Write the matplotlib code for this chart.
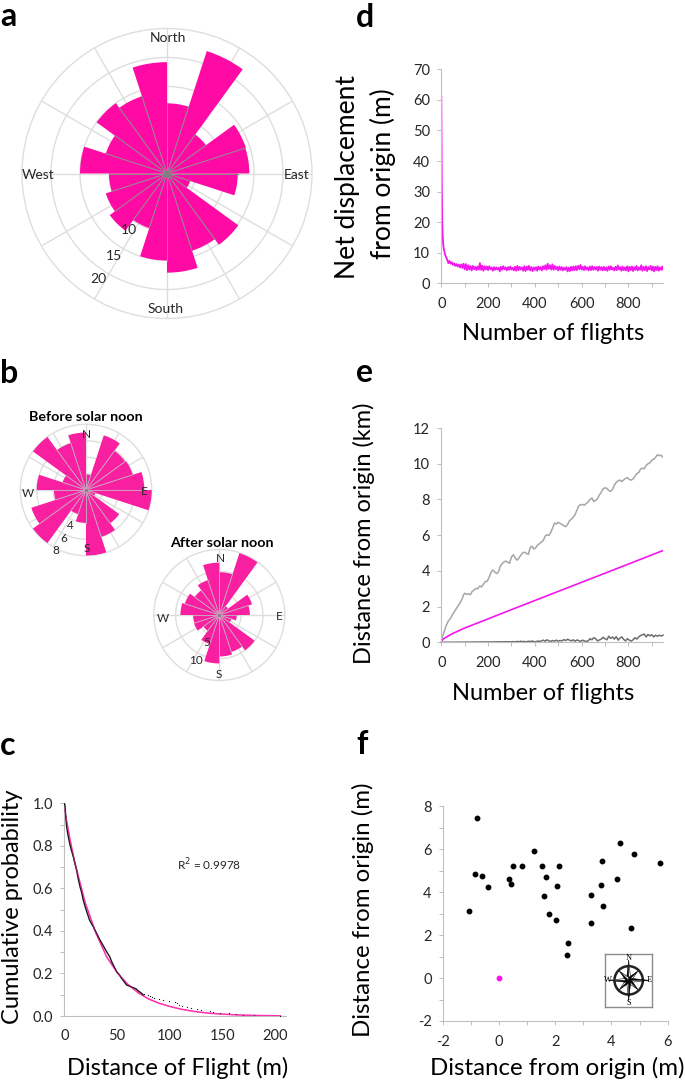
import numpy as np
import matplotlib
matplotlib.use('Agg')
import matplotlib.pyplot as plt
from matplotlib.patches import Circle, Polygon

plt.rcParams['font.family'] = ['Lato', 'DejaVu Sans']
plt.rcParams['axes.unicode_minus'] = False

W, H = 685, 1081

# a: flights per 18 degree sector, clockwise from north
rose_a = [12.1, 22.2, 8.3, 14.3, 14.2, 12.2, 4.2, 15.2, 14.0, 17.1,
          15.0, 9.9, 12.2, 11.1, 10.0, 15.0, 11.1, 15.0, 14.0, 19.2]
# b: before and after solar noon
rose_before = [1.9, 7.0, 5.9, 6.0, 7.1, 8.1, 1.2, 5.0, 6.0, 8.0,
               4.0, 3.1, 8.0, 7.0, 3.9, 6.0, 3.0, 8.0, 6.0, 7.0]
rose_after = [9.8, 14.9, 2.5, 7.9, 7.0, 4.0, 2.9, 10.0, 8.9, 9.5,
              11.1, 7.0, 4.5, 6.1, 6.0, 8.9, 8.3, 7.0, 8.4, 12.0]

# c: cumulative probability
c_x = [0, 0.6, 1.2, 2.2, 3.5, 5.4, 7, 8.5, 10, 11.7, 13, 14.9, 16.5, 18, 20, 21.8, 24,
       27.5, 30, 33.9, 37, 40.2, 43, 45, 47, 49.7, 52, 54.4, 57, 59, 62, 65.5, 68, 70, 73, 75]
c_y = [1.0, 0.992, 0.95, 0.89, 0.85, 0.804, 0.775, 0.75, 0.72, 0.686, 0.65, 0.608, 0.58,
       0.545, 0.51, 0.483, 0.45, 0.42, 0.395, 0.357, 0.33, 0.302, 0.28, 0.255, 0.235,
       0.208, 0.195, 0.177, 0.16, 0.146, 0.14, 0.133, 0.128, 0.119, 0.108, 0.099]
c_dots_x = [76, 79, 81, 83, 85, 90, 94, 99, 105, 107, 109, 112, 116, 120, 126, 130,
            138, 141, 148, 156, 163, 170, 180, 205]
c_dots_y = [0.105, 0.1, 0.095, 0.09, 0.085, 0.08, 0.075, 0.072, 0.068, 0.06, 0.05, 0.045,
            0.04, 0.037, 0.032, 0.027, 0.022, 0.017, 0.015, 0.012, 0.01, 0.007, 0.004, 0.001]
fit_x = [0, 5, 10, 20, 30, 40, 50, 60, 70, 80, 90, 100, 110, 120, 130, 140, 150, 160, 170, 180, 190, 205]
fit_y = [0.98, 0.84, 0.72, 0.53, 0.39, 0.28, 0.205, 0.15, 0.11, 0.08, 0.06, 0.045, 0.033,
         0.024, 0.017, 0.012, 0.009, 0.006, 0.004, 0.003, 0.002, 0.001]

# d: net displacement (first flights, then every 5th)
d_x0 = [0, 1, 2, 3, 4, 6, 8, 10, 13, 16, 20, 25, 30, 35, 40, 45, 50, 55, 60, 65, 70, 75, 80, 85, 90, 95]
d_y0 = [61, 45, 33, 25, 20, 15.5, 13, 11.5, 10.5, 9.4, 8.6, 7.8, 6.6, 7.3, 6.4, 6.9, 6.0, 6.5, 5.7,
        6.3, 5.5, 6.1, 5.2, 6.2, 5.0, 6.4]
d_y1 = [4.6, 6.3, 4.3, 5.9, 4.5, 5.6, 4.2, 5.7, 4.6, 5.4, 4.3, 5.5, 4.5, 6.6, 4.4, 5.8, 4.1, 5.6,
        4.5, 5.5, 4.3, 5.6, 4.6, 5.2, 4.1, 5.3, 4.4, 5.2, 4.5, 5.1, 3.9, 5.4, 4.4, 5.6, 4.6, 5.2,
        4.2, 5.3, 4.4, 5.5, 4.5, 5.1, 4.2, 5.4, 4.1, 5.7, 4.3, 5.4, 4.5, 5.2, 4.1, 5.6, 4.0, 5.5,
        4.4, 5.7, 4.2, 5.3, 4.0, 5.2, 4.4, 5.3, 4.1, 5.5, 4.5, 5.3, 4.2, 5.6, 4.6, 5.9, 4.4, 6.4,
        4.7, 5.9, 4.5, 6.2, 4.4, 5.7, 4.6, 5.4, 4.2, 5.5, 4.4, 5.3, 4.2, 5.1, 4.4, 5.3, 3.9, 5.1,
        4.0, 5.4, 4.2, 5.5, 4.3, 5.6, 4.3, 5.7, 4.6, 6.0, 4.5, 5.4, 4.3, 5.6, 4.5, 5.2, 4.2, 5.5,
        4.3, 5.6, 4.4, 5.3, 4.5, 5.4, 4.1, 5.5, 4.4, 5.3, 4.2, 5.4, 4.3, 5.2, 4.1, 5.5, 4.4, 5.6,
        4.5, 5.1, 4.2, 5.4, 4.3, 5.8, 4.5, 5.3, 4.1, 5.5, 4.3, 5.2, 4.2, 5.6, 3.9, 5.4, 4.3, 5.5,
        4.0, 5.3, 4.4, 5.7, 4.2, 5.2, 4.4, 5.9, 4.1, 5.4, 4.3, 5.6, 4.0, 5.3, 4.5, 5.7, 4.2, 5.5,
        3.9, 5.4, 4.3, 5.6, 4.1, 5.2, 4.4, 5.5, 4.2]

# e: distance from origin
e_gray_x0 = [0, 3, 10, 20, 30, 40, 50, 60, 70, 80, 90, 95]
e_gray_y0 = [0, 0.25, 0.5, 0.9, 1.2, 1.35, 1.6, 1.8, 2.0, 2.2, 2.45, 2.65]
e_gray_y1 = [2.75, 2.68, 2.72, 2.66, 2.85, 2.92, 3.02, 3.0, 3.15, 3.1, 3.25, 3.4, 3.42, 3.62, 3.9,
             4.05, 3.95, 3.85, 3.92, 4.25, 4.4, 4.5, 4.55, 4.48, 4.42, 4.78, 4.9, 4.72, 4.6, 4.72,
             4.88, 5.0, 5.05, 4.98, 4.92, 5.3, 5.38, 5.22, 5.3, 5.45, 5.52, 5.62, 5.7, 5.95, 6.02,
             5.98, 6.15, 6.4, 6.68, 6.62, 6.72, 6.65, 6.6, 6.52, 6.48, 6.6, 6.8, 6.9, 7.0, 7.15,
             7.4, 7.65, 7.7, 7.72, 7.68, 7.78, 7.85, 8.0, 8.08, 7.88, 7.95, 8.05, 8.25, 8.4, 8.6,
             8.65, 8.62, 8.5, 8.45, 8.55, 8.8, 8.95, 9.05, 9.08, 9.0, 9.1, 9.18, 9.22, 9.12, 9.08,
             9.15, 9.3, 9.45, 9.5, 9.7, 9.75, 9.72, 9.9, 10.0, 10.05, 10.2, 10.25, 10.35, 10.5,
             10.45, 10.48, 10.35]
e_pink_x = [0, 3, 10, 25, 50, 100, 200, 300, 400, 500, 600, 700, 800, 950]
e_pink_y = [0.02, 0.1, 0.2, 0.32, 0.5, 0.8, 1.31, 1.83, 2.34, 2.85, 3.36, 3.87, 4.38, 5.15]
e_dark_x0 = [0, 100, 200, 292]
e_dark_y0 = [0, 0.01, 0.02, 0.03]
e_dark_y1 = [.02, .04, .02, .05, .03, .06, .03, .05, .02, .06,
             .04, .07, .04, .03, .07, .05, .08, .12, .06, .14,
             .08, .05, .1, .07, .12, .06, .1, .08, .15, .1,
             .17, .12, .08, .14, .06, .13, .09, .05, .12, .07,
             .05, .08, .2, .14, .26, .2, .08, .13, .18, .28,
             .2, .14, .34, .22, .3, .18, .32, .12, .24, .3,
             .16, .08, .2, .12, .07, .14, .26, .18, .3, .38,
             .42, .46, .3, .44, .36, .42, .3, .4, .34, .4, .35, .4]

# f: final positions
f_x = [-0.77, -1.08, -0.85, -0.59, -0.38, 0.37, 0.44, 0.49, 0.82, 1.25, 1.52, 1.67, 1.60, 1.79,
       2.02, 2.08, 2.12, 2.47, 2.41, 3.26, 3.27, 3.62, 3.68, 3.69, 4.18, 4.30, 4.80, 4.71, 5.74]
f_y = [7.45, 3.11, 4.83, 4.77, 4.22, 4.60, 4.36, 5.23, 5.23, 5.93, 5.20, 4.70, 3.84, 2.97,
       2.70, 4.30, 5.23, 1.61, 1.09, 2.55, 3.87, 4.33, 5.43, 3.37, 4.63, 6.27, 5.76, 2.33, 5.36]

GRID = '#DEDEDE'
AXC = '#BFBFBF'
TXT = '#262626'

fig = plt.figure(figsize=(W / 100, H / 100), dpi=100)


def px_axes(left, top, right, bottom, **kw):
    return fig.add_axes([left / W, 1 - bottom / H, (right - left) / W, (bottom - top) / H], **kw)


def label(x, y, s, **kw):
    kw.setdefault('ha', 'center')
    kw.setdefault('va', 'center')
    kw.setdefault('color', TXT)
    return fig.text(x / W, 1 - y / H, s, **kw)


def rose(cx, cy, radius, values, rmax, rings, color, spoke, lw=1.0):
    ax = px_axes(cx - radius, cy - radius, cx + radius, cy + radius, projection='polar')
    ax.set_theta_zero_location('N')
    ax.set_theta_direction(-1)
    ax.grid(False)
    ax.set_xticks([])
    ax.set_yticks([])
    # сетка под секторами
    circle = np.linspace(0, 2 * np.pi, 361)
    for r in rings:
        ax.plot(circle, np.full_like(circle, r), color=GRID, lw=lw, zorder=1)
    for deg in range(0, 360, 30):
        ax.plot([np.deg2rad(deg)] * 2, [0, rmax], color=GRID, lw=lw, zorder=1)
    n = len(values)
    step = 2 * np.pi / n
    ax.bar(np.arange(n) * step, values, width=step, align='edge', color=color, linewidth=0, zorder=3)
    # спицы по границам секторов
    for i in range(n):
        ax.plot([i * step, i * step], [0, min(values[i], values[i - 1])], color=spoke, lw=0.7, zorder=4)
    ax.plot([0], [0], 'o', color='#808080', ms=radius * 0.035, mew=0, zorder=5)
    ax.set_ylim(0, rmax)
    ax.spines['polar'].set_color(GRID)
    ax.spines['polar'].set_linewidth(lw)
    return ax


def plain_axes(left, top, right, bottom):
    ax = px_axes(left, top, right, bottom)
    ax.spines['top'].set_visible(False)
    ax.spines['right'].set_visible(False)
    for s in ('left', 'bottom'):
        ax.spines[s].set_color(AXC)
        ax.spines[s].set_linewidth(0.8)
    ax.tick_params(which='both', color=AXC, width=0.7, length=3, labelsize=10.5, labelcolor=TXT, pad=5)
    return ax


# ПАНЕЛЬ a
rose(167, 173.5, 145, rose_a, 25, [5, 10, 15, 20], '#FF0AA5', '#8C8C8C', lw=1.0)
for x, y, s in [(168, 38, 'North'), (297, 175, 'East'), (166, 309, 'South'), (38, 175, 'West'),
                (129, 230, '10'), (114, 256, '15'), (98, 279, '20')]:
    label(x, y, s, fontsize=10)

# ПАНЕЛЬ b
rose(86, 490, 65.7, rose_before, 8, [2, 4, 6], '#F81FA0', '#C9A3BC', lw=1.0)
rose(219.3, 615, 65.5, rose_after, 15, [5, 10], '#F81FA0', '#C9A3BC', lw=1.0)
label(86, 417, 'Before solar noon', fontsize=10.3, fontweight='bold', color='black')
label(222, 543, 'After solar noon', fontsize=10.3, fontweight='bold', color='black')
for x, y, s in [(86, 434, 'N'), (144, 492, 'E'), (87, 548, 'S'), (28, 493, 'W'),
                (70, 525, '4'), (64, 538, '6'), (56, 550, '8'),
                (220, 559, 'N'), (279, 617, 'E'), (219, 674, 'S'), (163, 618, 'W'),
                (207, 642, '5'), (196, 660, '10')]:
    label(x, y, s, fontsize=8.5)

# ПАНЕЛЬ c
ax = plain_axes(64.3, 803.3, 286, 1016)
ax.plot(fit_x, fit_y, color='#FF2FB0', lw=1.1, zorder=2)
ax.plot(c_x, c_y, color='#1A1A1A', lw=1.0, zorder=3)
ax.plot(c_dots_x, c_dots_y, ls='', marker='s', ms=0.8, mew=0, color='#1A1A1A', zorder=3)
ax.plot(fit_x, fit_y, color='#FF2FB0', lw=0.6, alpha=0.5, zorder=4)
ax.set_xlim(0, 210.4)
ax.set_ylim(0, 1)
ax.set_xticks([0, 50, 100, 150, 200])
ax.set_yticks([0, 0.2, 0.4, 0.6, 0.8, 1.0])
ax.set_yticks(np.arange(0.1, 1, 0.2), minor=True)
ax.tick_params(axis='x', length=0, pad=9)
ax.set_yticklabels(['0.0', '0.2', '0.4', '0.6', '0.8', '1.0'])
label(209, 865, 'R$^2$ = 0.9978', fontsize=8.5)
label(13, 907, 'Cumulative probability', rotation=90, fontsize=17, color='black')
label(178, 1068, 'Distance of Flight (m)', fontsize=17, color='black')

# ПАНЕЛЬ d
ax = plain_axes(441.3, 69.3, 663, 283.3)
d_x = d_x0 + [100 + 5 * i for i in range(len(d_y1))]
ax.plot(d_x, d_y0 + d_y1, color='#F516EE', lw=1.3)
ax.set_xlim(0, 948)
ax.set_ylim(0, 70)
ax.set_xticks(np.arange(0, 1000, 200))
ax.set_xticks(np.arange(100, 1000, 200), minor=True)
ax.set_yticks(np.arange(0, 80, 10))
ax.tick_params(axis='x', pad=7)
label(348, 177, 'Net displacement', rotation=90, fontsize=19, color='black')
label(383, 174, 'from origin (m)', rotation=90, fontsize=19, color='black')
label(553, 333, 'Number of flights', fontsize=17, color='black')

# ПАНЕЛЬ e
ax = plain_axes(441.3, 428, 663, 642.3)
e_gray_x = e_gray_x0 + [100 + 8 * i for i in range(len(e_gray_y1))]
e_dark_x = e_dark_x0 + [300 + 8 * i for i in range(len(e_dark_y1))]
ax.plot(e_gray_x, e_gray_y0 + e_gray_y1, color='#A6A6A6', lw=1.1)
ax.plot(e_pink_x, e_pink_y, color='#F516EE', lw=1.2)
ax.plot(e_dark_x, e_dark_y0 + e_dark_y1, color='#6E6E6E', lw=1.1, clip_on=False)
ax.set_xlim(0, 948)
ax.set_ylim(0, 12)
ax.set_xticks(np.arange(0, 1000, 200))
ax.set_xticks(np.arange(100, 1000, 200), minor=True)
ax.set_yticks(np.arange(0, 14, 2))
ax.tick_params(axis='x', pad=7)
label(364, 533, 'Distance from origin (km)', rotation=90, fontsize=17, color='black')
label(543, 694, 'Number of flights', fontsize=17, color='black')

# ПАНЕЛЬ f
ax = plain_axes(442.7, 806.3, 667.7, 1021)
ax.plot(f_x, f_y, ls='', marker='o', ms=3.2, color='black')
ax.plot([0], [0], ls='', marker='o', ms=3.2, color='#FF10F0')
ax.set_xlim(-2, 6)
ax.set_ylim(-2, 8)
ax.set_xticks(np.arange(-2, 8, 2))
ax.set_xticks(np.arange(-1, 6, 2), minor=True)
ax.set_yticks(np.arange(-2, 10, 2))
ax.set_yticks(np.arange(-1, 8, 2), minor=True)
ax.tick_params(axis='x', pad=7)
label(363, 910, 'Distance from origin (m)', rotation=90, fontsize=17.3, color='black')
label(557, 1068, 'Distance from origin (m)', fontsize=17.3, color='black')

# компас
cmp = px_axes(605, 954, 652.3, 1006.7)
cmp.set_xlim(-1, 1)
cmp.set_ylim(-1.108, 1.108)
cmp.set_aspect('equal')
cmp.set_xticks([])
cmp.set_yticks([])
for s in cmp.spines.values():
    s.set_color('#8C8C8C')
    s.set_linewidth(1.0)
cmp.add_patch(Circle((0, 0), 0.6, fc='white', ec='#222222', lw=1.8))
for ang in np.arange(0, 360, 45):
    t = np.deg2rad(ang)
    long_r = 0.85 if ang % 90 == 0 else 0.55
    tip = (long_r * np.sin(t), long_r * np.cos(t))
    for side, col in ((-1, 'black'), (1, 'white')):
        b = (0.12 * np.sin(t + side * np.pi / 4), 0.12 * np.cos(t + side * np.pi / 4))
        cmp.add_patch(Polygon([(0, 0), b, tip], fc=col, ec='black', lw=0.4, zorder=3))
for x, y, s in [(0, 0.95, 'N'), (0.87, 0, 'E'), (0, -0.97, 'S'), (-0.87, 0, 'W')]:
    cmp.text(x, y, s, ha='center', va='center', fontsize=6, family='Liberation Serif', zorder=4)

# БУКВЫ ПАНЕЛЕЙ
for x, y, s in [(0, 26, 'a'), (0, 383, 'b'), (0, 755, 'c'), (356, 27, 'd'), (356, 382, 'e'), (356, 754, 'f')]:
    label(x, y, s, fontsize=23, fontweight='bold', color='black', ha='left', va='baseline')

fig.savefig('out.png', dpi=100)
